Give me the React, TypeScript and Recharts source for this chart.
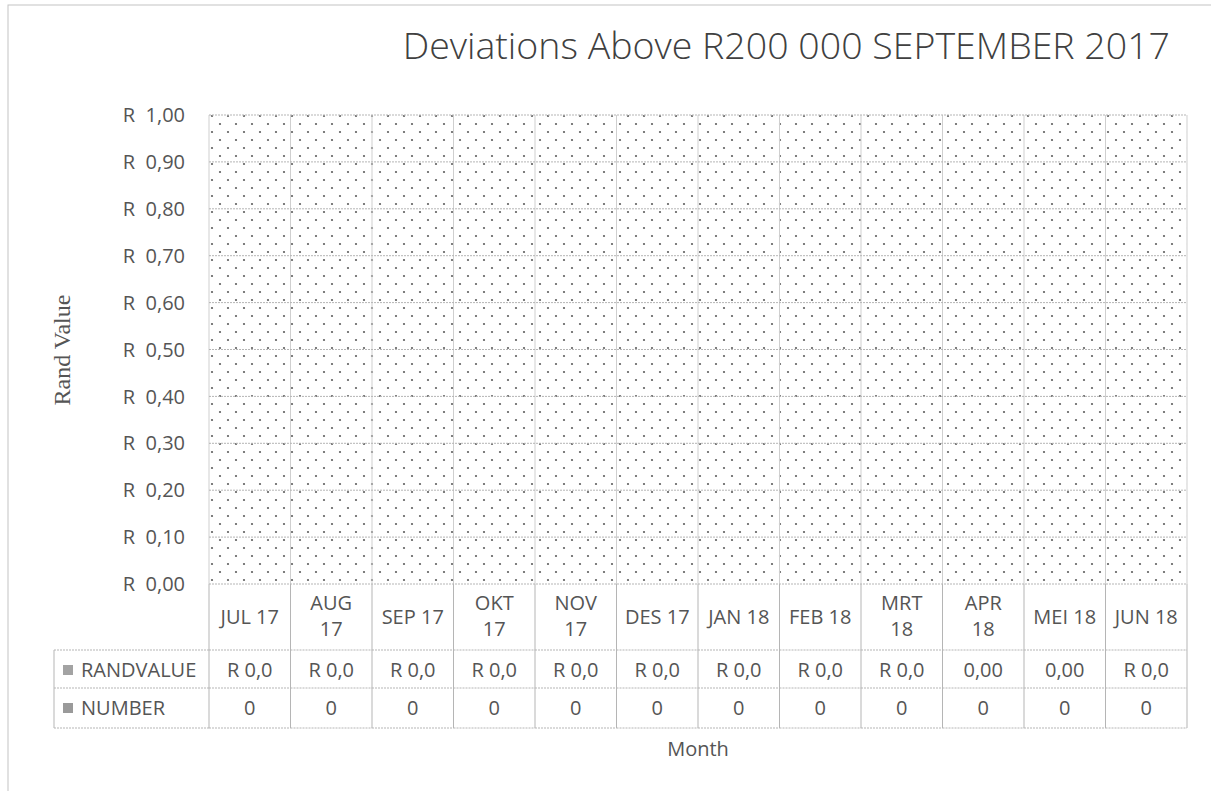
import React from 'react';
import { BarChart, Bar, XAxis, YAxis, CartesianGrid } from 'recharts';

const title = 'Deviations Above R200 000 SEPTEMBER 2017';
const categories = ['JUL 17', 'AUG 17', 'SEP 17', 'OKT 17', 'NOV 17', 'DES 17', 'JAN 18', 'FEB 18', 'MRT 18', 'APR 18', 'MEI 18', 'JUN 18'];
const wrappedCategories = ['AUG 17', 'OKT 17', 'NOV 17', 'MRT 18', 'APR 18'];
const randValues = [0, 0, 0, 0, 0, 0, 0, 0, 0, 0, 0, 0];
const numberValues = [0, 0, 0, 0, 0, 0, 0, 0, 0, 0, 0, 0];
const randValueLabels = ['R 0,0', 'R 0,0', 'R 0,0', 'R 0,0', 'R 0,0', 'R 0,0', 'R 0,0', 'R 0,0', 'R 0,0', '0,00', '0,00', 'R 0,0'];
const seriesNames = ['RANDVALUE', 'NUMBER'];
const yTicks = [0, 0.1, 0.2, 0.3, 0.4, 0.5, 0.6, 0.7, 0.8, 0.9, 1.0];
const xAxisTitle = 'Month';
const yAxisTitle = 'Rand Value';

const data = categories.map((c, i) => ({
  month: c,
  RANDVALUE: randValues[i],
  NUMBER: numberValues[i],
  randLabel: randValueLabels[i],
}));

const W = 1211;
const H = 791;
const MARGIN = { top: 115, right: 24, bottom: 63, left: 109 };
const Y_AXIS_W = 100;
const X_AXIS_H = 144;
const PLOT_W = W - MARGIN.left - Y_AXIS_W - MARGIN.right;

const FONT = '"Open Sans", "Noto Sans", sans-serif';
const TEXT = '#555555';
const GRID = '#b5b5b5';
const KEY_COLORS = ['#a3a3a3', '#9a9a9a'];

const fmtRand = (v: number) => 'R\u00a0\u00a0' + v.toFixed(2).replace('.', ',');

const TableTick = (props: any) => {
  const { x, y, payload, index } = props;
  const bw = PLOT_W / categories.length;
  const left = x - bw / 2;
  const right = x + bw / 2;
  const label: string = String(payload.value);
  const wrapped = wrappedCategories.includes(label);
  const sp = label.lastIndexOf(' ');
  const row1 = y + 66;
  const row2 = y + 104;
  const row3 = y + 144;
  const dash = '2 1';
  const common = { fontFamily: FONT, fontSize: 20, fill: TEXT, textAnchor: 'middle' as const };
  return (
    <g>
      {index === 0 && (
        <g>
          <line x1={left} x2={left} y1={y} y2={row3} stroke={GRID} />
          <line x1={54} x2={left} y1={row1} y2={row1} stroke={GRID} strokeDasharray={dash} />
          <line x1={54} x2={left} y1={row2} y2={row2} stroke={GRID} strokeDasharray={dash} />
          <line x1={54} x2={left} y1={row3} y2={row3} stroke={GRID} strokeDasharray={dash} />
          <line x1={54} x2={54} y1={row1} y2={row3} stroke={GRID} />
          {seriesNames.map((s, k) => {
            const cy = k === 0 ? y + 86 : y + 124;
            return (
              <g key={s}>
                <rect x={left - 146} y={cy - 5} width={10} height={10} fill={KEY_COLORS[k]} />
                <text x={left - 128} y={cy} dy="0.35em" fontFamily={FONT} fontSize={20} fill={TEXT}>{s}</text>
              </g>
            );
          })}
        </g>
      )}
      <line x1={right} x2={right} y1={y} y2={row3} stroke={GRID} />
      <line x1={left} x2={right} y1={row1} y2={row1} stroke={GRID} strokeDasharray={dash} />
      <line x1={left} x2={right} y1={row2} y2={row2} stroke={GRID} strokeDasharray={dash} />
      <line x1={left} x2={right} y1={row3} y2={row3} stroke={GRID} strokeDasharray={dash} />
      {wrapped ? (
        <>
          <text x={x} y={y + 19} dy="0.35em" {...common}>{label.slice(0, sp)}</text>
          <text x={x} y={y + 45} dy="0.35em" {...common}>{label.slice(sp + 1)}</text>
        </>
      ) : (
        <text x={x} y={y + 33} dy="0.35em" {...common}>{label}</text>
      )}
      <text x={x} y={y + 86} dy="0.35em" {...common} style={{ whiteSpace: 'pre' }}>{randValueLabels[index]}</text>
      <text x={x} y={y + 124} dy="0.35em" {...common}>{String(numberValues[index])}</text>
    </g>
  );
};

export default function App() {
  return (
    <div style={{ position: 'absolute', left: 0, top: 0, width: W, height: H, background: '#fff' }}>
      <svg width={0} height={0} style={{ position: 'absolute' }}>
        <defs>
          <pattern id="dots" x={0} y={0} width={16} height={16} patternUnits="userSpaceOnUse">
            <rect x={0} y={0} width={16} height={16} fill="#ffffff" />
            <circle cx={4} cy={4} r={1.1} fill="#5e5e5e" />
            <circle cx={12} cy={12} r={1.1} fill="#5e5e5e" />
          </pattern>
        </defs>
      </svg>
      <BarChart width={W} height={H} data={data} margin={MARGIN} barCategoryGap="20%">
        <rect x={8} y={5} width={W + 10} height={H + 10} fill="none" stroke="#c4c4c4" />
        <text x={1170} y={59} textAnchor="end" fontFamily={FONT} fontWeight={300} fontSize={37.5} fill="#404040">{title}</text>
        <text x={62} y={350} transform="rotate(-90 62 350)" textAnchor="middle" dominantBaseline="central" fontFamily='"Liberation Serif", "DejaVu Serif", serif' fontSize={24} fill={TEXT}>{yAxisTitle}</text>
        <text x={698} y={748} textAnchor="middle" dominantBaseline="central" fontFamily={FONT} fontSize={20} fill={TEXT}>{xAxisTitle}</text>
        <CartesianGrid
          horizontal={false}
          vertical
          fill="url(#dots)"
          fillOpacity={1}
          stroke="#cfcfcf"
          verticalCoordinatesGenerator={({ offset }: any) =>
            categories.map((_, i) => offset.left + (i * offset.width) / categories.length).concat(offset.left + offset.width)
          }
        />
        <CartesianGrid horizontal vertical={false} stroke={GRID} strokeDasharray="2 1" />
        <XAxis
          dataKey="month"
          height={X_AXIS_H}
          tickSize={0}
          tickMargin={0}
          axisLine={false}
          tickLine={false}
          interval={0}
          tick={<TableTick />}
        />
        <YAxis
          width={Y_AXIS_W}
          domain={[0, 1]}
          ticks={yTicks}
          tickFormatter={fmtRand}
          tickSize={0}
          tickMargin={24}
          axisLine={false}
          tickLine={false}
          tick={{ fontFamily: FONT, fontSize: 20, fill: TEXT }}
        />
        <Bar dataKey="RANDVALUE" fill={KEY_COLORS[0]} isAnimationActive={false} />
        <Bar dataKey="NUMBER" fill={KEY_COLORS[1]} isAnimationActive={false} />
      </BarChart>
    </div>
  );
}
